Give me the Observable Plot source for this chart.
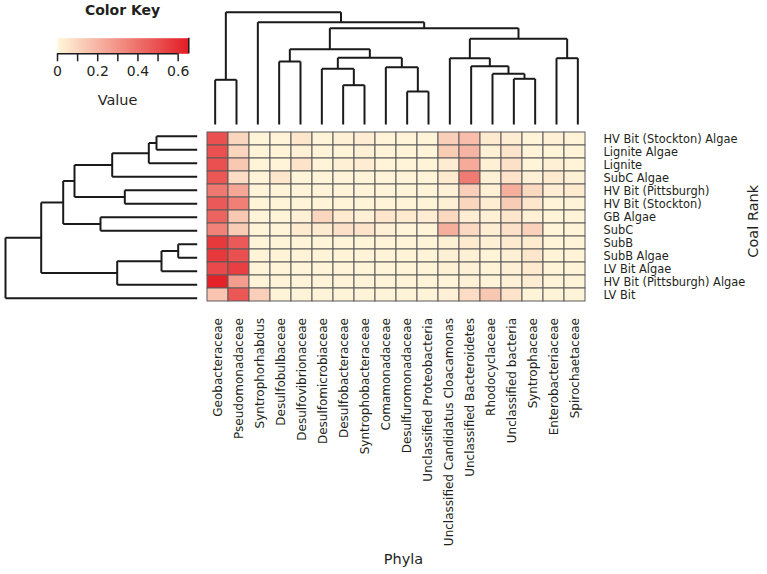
<!DOCTYPE html>
<html><head><meta charset="utf-8">
<script src="https://cdn.jsdelivr.net/npm/d3@7"></script>
<script src="https://cdn.jsdelivr.net/npm/@observablehq/plot@0.6"></script>
<style>
body{margin:0;background:#fff;}
#chart{position:relative;width:767px;height:574px;font-family:"DejaVu Sans", sans-serif;color:#231f20;}
#chart svg{position:absolute;left:0;top:0;}
</style></head><body><div id="chart"></div>
<script>
const phyla = ["Geobacteraceae","Pseudomonadaceae","Syntrophorhabdus","Desulfobulbaceae","Desulfovibrionaceae","Desulfomicrobiaceae","Desulfobacteraceae","Syntrophobacteraceae","Comamonadaceae","Desulfuromonadaceae","Unclassified Proteobacteria","Unclassified Candidatus Cloacamonas","Unclassified Bacteroidetes","Rhodocyclaceae","Unclassified bacteria","Syntrophaceae","Enterobacteriaceae","Spirochaetaceae"];
const coalRanks = ["HV Bit (Stockton) Algae","Lignite Algae","Lignite","SubC Algae","HV Bit (Pittsburgh)","HV Bit (Stockton)","GB Algae","SubC","SubB","SubB Algae","LV Bit Algae","HV Bit (Pittsburgh) Algae","LV Bit"];
const values = [
  [0.50,0.10,0.01,0.01,0.05,0.01,0.02,0.03,0.01,0.01,0.01,0.12,0.17,0.04,0.03,0.01,0.02,0.01],
  [0.50,0.10,0.01,0.01,0.02,0.01,0.01,0.02,0.01,0.01,0.01,0.13,0.20,0.02,0.06,0.01,0.01,0.01],
  [0.50,0.14,0.01,0.01,0.06,0.01,0.02,0.03,0.01,0.01,0.01,0.03,0.23,0.02,0.07,0.01,0.02,0.01],
  [0.48,0.08,0.01,0.05,0.01,0.01,0.01,0.01,0.01,0.01,0.01,0.04,0.37,0.02,0.06,0.02,0.04,0.02],
  [0.38,0.24,0.01,0.01,0.01,0.01,0.01,0.01,0.01,0.01,0.01,0.02,0.12,0.02,0.22,0.09,0.03,0.04],
  [0.47,0.36,0.01,0.01,0.01,0.01,0.01,0.01,0.01,0.01,0.01,0.02,0.10,0.03,0.13,0.05,0.01,0.01],
  [0.44,0.14,0.01,0.01,0.02,0.10,0.04,0.02,0.05,0.04,0.03,0.09,0.03,0.02,0.05,0.02,0.01,0.01],
  [0.35,0.13,0.01,0.01,0.04,0.04,0.07,0.06,0.02,0.01,0.01,0.22,0.09,0.03,0.07,0.11,0.01,0.01],
  [0.57,0.47,0.01,0.01,0.01,0.01,0.01,0.01,0.01,0.01,0.01,0.02,0.04,0.02,0.04,0.04,0.01,0.01],
  [0.57,0.50,0.01,0.01,0.01,0.01,0.01,0.01,0.01,0.01,0.01,0.02,0.02,0.01,0.02,0.05,0.01,0.01],
  [0.52,0.55,0.01,0.01,0.01,0.01,0.01,0.01,0.01,0.01,0.01,0.02,0.02,0.01,0.02,0.04,0.01,0.01],
  [0.64,0.27,0.01,0.01,0.01,0.01,0.01,0.01,0.01,0.01,0.01,0.01,0.02,0.01,0.02,0.03,0.01,0.01],
  [0.15,0.48,0.12,0.01,0.01,0.01,0.01,0.01,0.01,0.01,0.01,0.02,0.08,0.14,0.06,0.01,0.01,0.01]
];
// hclust-style merges: negative = leaf (1-based), positive = earlier merge (1-based)
const colMerge = [[-1,-2],[-4,-5],[-7,-8],[-6,3],[-10,-11],[-9,5],[4,6],[2,7],[-15,-16],[-14,9],[-13,10],[-12,11],[-17,-18],[12,13],[8,14],[-3,15],[1,16]];
const colHeight = [44.7,63,39.3,55.7,33,57.3,66.7,75.3,45.7,50.7,58.3,66.3,66.3,85.7,96.3,102.3,112.3];
const rowMerge = [[-1,-2],[-3,1],[-4,2],[-5,-6],[3,4],[-7,-8],[5,6],[-9,-10],[-11,8],[-12,9],[7,10],[-13,11]];
const rowHeight = [40.7,48.4,85,72.4,122.7,96.7,134,19,35.7,80,156,191.7];
const legendTicks = [0,0.1,0.2,0.3,0.4,0.5,0.6];
const legendLabels = ["0","","0.2","","0.4","","0.6"];
const colorMax = 0.653;
const colorRange = ["#fff7da","#e31d25"];

const cells = [];
coalRanks.forEach((r, i) => phyla.forEach((p, j) => cells.push({rank: r, phylum: p, value: values[i][j]})));

function dendroSegments(merge, height) {
  const pos = [], hts = [], segs = [];
  const node = k => k < 0 ? {p: -k - 0.5, h: 0} : {p: pos[k - 1], h: hts[k - 1]};
  merge.forEach(([a, b], i) => {
    const A = node(a), B = node(b), h = height[i];
    segs.push({p1: A.p, h1: A.h, p2: A.p, h2: h});
    segs.push({p1: A.p, h1: h, p2: B.p, h2: h});
    segs.push({p1: B.p, h1: B.h, p2: B.p, h2: h});
    pos.push((A.p + B.p) / 2); hts.push(h);
  });
  return segs;
}
const colSegs = dendroSegments(colMerge, colHeight);
const rowSegs = dendroSegments(rowMerge, rowHeight);

const colorScale = {type: "linear", domain: [0, colorMax], range: colorRange, interpolate: "rgb"};
const font = "'DejaVu Sans', sans-serif";
const chart = document.getElementById("chart");

const heat = Plot.plot({
  width: 767, height: 574,
  marginLeft: 204, marginRight: 179, marginTop: 129, marginBottom: 269.5,
  x: {domain: phyla, padding: 0, label: null},
  y: {domain: coalRanks, padding: 0, label: null},
  color: colorScale,
  style: {fontFamily: font, fontSize: "12px", color: "#231f20", background: "white"},
  marks: [
    Plot.cell(cells, {x: "phylum", y: "rank", fill: "value", stroke: "#5a5a5a", strokeWidth: 1, inset: 0}),
    Plot.axisX({anchor: "bottom", tickRotate: -90, tickSize: 0, tickPadding: 13, label: null, fontSize: 12}),
    Plot.axisY({anchor: "right", tickSize: 0, tickPadding: 15, label: null, fontSize: 11.4}),
    Plot.text(["Phyla"], {text: d => d, frameAnchor: "bottom", textAnchor: "middle", lineAnchor: "middle", dx: 7, dy: 254, fontSize: 14.5}),
    Plot.text(["Coal Rank"], {text: d => d, frameAnchor: "right", textAnchor: "middle", lineAnchor: "middle", dx: 164.5, dy: 4, rotate: -90, fontSize: 14.5})
  ]
});
chart.appendChild(heat);

const topTree = Plot.plot({
  width: 767, height: 574,
  marginLeft: 204, marginRight: 179, marginTop: 11.7, marginBottom: 450,
  x: {domain: [0, phyla.length], axis: null},
  y: {domain: [0, colHeight[colHeight.length - 1]], axis: null},
  style: {background: "transparent"},
  marks: [Plot.link(colSegs, {x1: "p1", y1: "h1", x2: "p2", y2: "h2", stroke: "#1a1a1a", strokeWidth: 2})]
});
chart.appendChild(topTree);

const leftTree = Plot.plot({
  width: 767, height: 574,
  marginLeft: 5, marginRight: 767 - 196.7, marginTop: 129, marginBottom: 269.5,
  x: {domain: [rowHeight[rowHeight.length - 1], 0], axis: null},
  y: {domain: [0, coalRanks.length], reverse: true, axis: null},
  style: {background: "transparent"},
  marks: [Plot.link(rowSegs, {x1: "h1", y1: "p1", x2: "h2", y2: "p2", stroke: "#1a1a1a", strokeWidth: 2})]
});
chart.appendChild(leftTree);

const legend = Plot.plot({
  width: 200, height: 120,
  marginLeft: 57, marginRight: 200 - 188.3, marginTop: 37.7, marginBottom: 120 - 53.3,
  x: {domain: [0, colorMax], label: null},
  y: {domain: [0, 1], axis: null},
  color: colorScale,
  style: {fontFamily: font, fontSize: "14px", color: "#231f20", background: "transparent"},
  marks: [
    Plot.raster({x1: 0, x2: colorMax, y1: 0, y2: 1, fill: (x, y) => x}),
    Plot.ruleX([colorMax], {y1: 0, y2: 1, stroke: "#1a1a1a", strokeWidth: 1.5}),
    Plot.ruleY([0], {x1: 0, x2: 0.6, stroke: "#1a1a1a", strokeWidth: 1.5}),
    Plot.axisX({anchor: "bottom", ticks: legendTicks, tickFormat: (d, i) => legendLabels[i], tickSize: 8, tickPadding: 4, strokeWidth: 1.5, label: null, fontSize: 14}),
    Plot.text(["Color Key"], {text: d => d, frameAnchor: "top", textAnchor: "middle", lineAnchor: "top", dx: -0.6, dy: -32.7, fontSize: 14, fontWeight: "bold"}),
    Plot.text(["Value"], {text: d => d, frameAnchor: "bottom", textAnchor: "middle", lineAnchor: "middle", dx: -5.6, dy: 46.7, fontSize: 14.5})
  ]
});
chart.appendChild(legend);
</script></body></html>
